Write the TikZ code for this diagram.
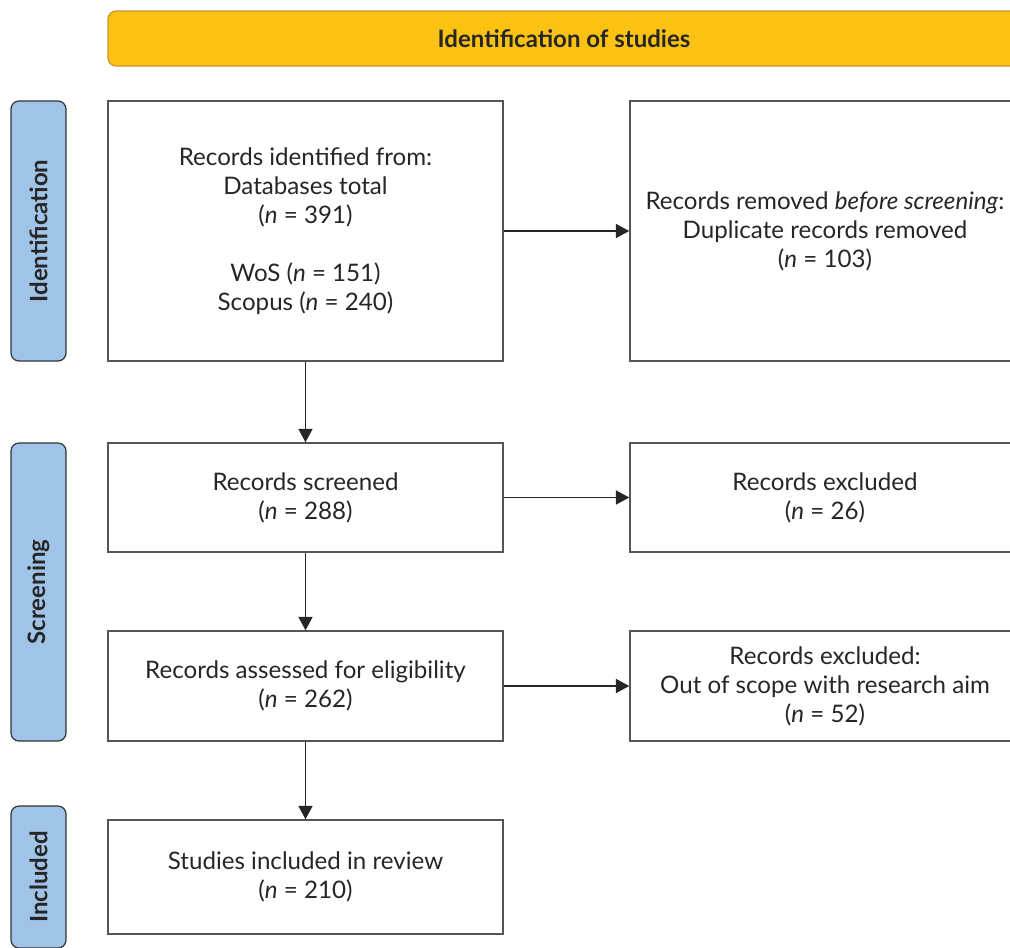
\documentclass[tikz,border=0pt]{standalone}
\usepackage{fontspec}
\setmainfont{Lato}
\usetikzlibrary{arrows.meta,positioning}
\definecolor{phaseblue}{HTML}{A0C4E8}
\definecolor{titleyellow}{HTML}{FBC113}
\definecolor{titleedge}{HTML}{C9962C}
\definecolor{boxedge}{HTML}{555555}

\begin{document}
\begin{tikzpicture}[
    x=0.75pt, y=-0.75pt,
    >={Triangle[length=10pt,width=10.5pt]},
    flow/.style={->,line width=1.15pt,black!85},
    box/.style={draw=boxedge,line width=1.1pt,fill=white,align=center,
        inner sep=0pt,font=\fontsize{18.1}{21.75}\selectfont,text=black!85},
    leftbox/.style={box,minimum width=296.25pt},
    rightbox/.style={box,minimum width=292.5pt},
    phase/.style={draw=black!80,fill=phaseblue,rounded corners=6pt,line width=0.9pt,
        rotate=90,minimum height=41.25pt,inner sep=0pt,
        font=\fontsize{18}{20}\selectfont\bfseries,text=black!85},
]
\clip (0,0) rectangle (1010,947);

% === Header ===
\node[draw=titleedge,fill=titleyellow,rounded corners=6pt,line width=0.9pt,
    minimum width=684pt,minimum height=41.25pt,
    font=\fontsize{18}{20}\selectfont\bfseries,text=black!85] (title) at (564,38.5)
    {Identification of studies};

% === Phase labels ===
\node[phase,minimum width=195pt] (idphase) at (38.5,231) {Identification};
\node[phase,minimum width=223.5pt] (scphase) at (38.5,592) {Screening};
\node[phase,minimum width=106.5pt] (inphase) at (38.5,877) {Included};

% === Main column ===
\node[leftbox,minimum height=195pt] (ident) at (305.5,231)
    {Records identified from:\\Databases total\\(\textit{n} = 391)\\[21.75pt]
     WoS (\textit{n} = 151)\\Scopus (\textit{n} = 240)};
\node[leftbox,minimum height=81.75pt] (screen) at (305.5,497.5)
    {Records screened\\(\textit{n} = 288)};
\node[leftbox,minimum height=82.5pt] (elig) at (305.5,686)
    {Records assessed for eligibility\\(\textit{n} = 262)};
\node[leftbox,minimum height=85.5pt] (incl) at (305.5,877)
    {Studies included in review\\(\textit{n} = 210)};

% === Side column ===
\node[rightbox,minimum height=195pt] (dupl) at (825,231)
    {Records removed \textit{before screening}:\\Duplicate records removed\\(\textit{n} = 103)};
\node[rightbox,minimum height=81.75pt] (excl) at (825,497.5)
    {Records excluded\\(\textit{n} = 26)};
\node[rightbox,minimum height=82.5pt] (scope) at (825,686)
    {Records excluded:\\Out of scope with research aim\\(\textit{n} = 52)};

% === Arrows ===
\draw[flow] (ident) -- (dupl);
\draw[flow] (screen) -- (excl);
\draw[flow] (elig) -- (scope);
\draw[flow] (ident) -- (screen);
\draw[flow] (screen) -- (elig);
\draw[flow] (elig) -- (incl);
\end{tikzpicture}
\end{document}
